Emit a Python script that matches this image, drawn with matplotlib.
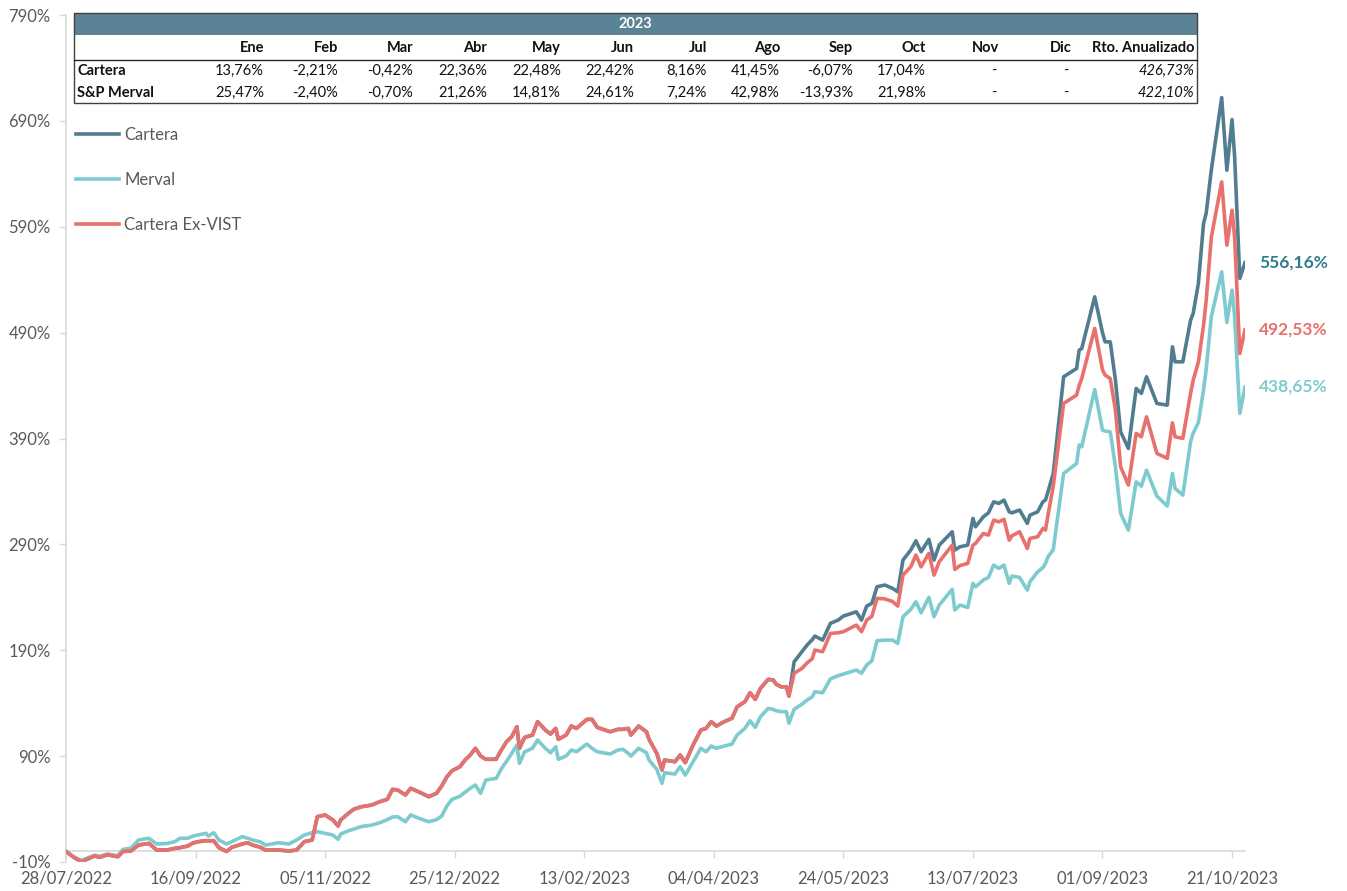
import matplotlib
matplotlib.use("Agg")
import matplotlib.pyplot as plt
import matplotlib.dates as mdates
from matplotlib.patches import Rectangle
import pandas as pd

# ---------------- data ----------------
dates = [
    "2022-07-28", "2022-07-31", "2022-08-03", "2022-08-05", "2022-08-08", "2022-08-10", "2022-08-13",
    "2022-08-17", "2022-08-19", "2022-08-22", "2022-08-25", "2022-08-29", "2022-09-01", "2022-09-05",
    "2022-09-08", "2022-09-10", "2022-09-13", "2022-09-15", "2022-09-17", "2022-09-20", "2022-09-21",
    "2022-09-23", "2022-09-25", "2022-09-28", "2022-09-30", "2022-10-04", "2022-10-06", "2022-10-08",
    "2022-10-11", "2022-10-13", "2022-10-18", "2022-10-22", "2022-10-25", "2022-10-28", "2022-10-31",
    "2022-11-02", "2022-11-05", "2022-11-08", "2022-11-10", "2022-11-11", "2022-11-14", "2022-11-16",
    "2022-11-19", "2022-11-23", "2022-11-26", "2022-11-29", "2022-12-01", "2022-12-03", "2022-12-06",
    "2022-12-08", "2022-12-11", "2022-12-15", "2022-12-18", "2022-12-20", "2022-12-22", "2022-12-24",
    "2022-12-27", "2022-12-29", "2022-12-31", "2023-01-02", "2023-01-04", "2023-01-06", "2023-01-10",
    "2023-01-12", "2023-01-14", "2023-01-16", "2023-01-18", "2023-01-19", "2023-01-21", "2023-01-24",
    "2023-01-26", "2023-01-29", "2023-01-31", "2023-02-02", "2023-02-03", "2023-02-06", "2023-02-08",
    "2023-02-10", "2023-02-14", "2023-02-16", "2023-02-18", "2023-02-23", "2023-02-26", "2023-02-28",
    "2023-03-02", "2023-03-03", "2023-03-06", "2023-03-09", "2023-03-10", "2023-03-13", "2023-03-15",
    "2023-03-16", "2023-03-20", "2023-03-22", "2023-03-24", "2023-03-27", "2023-03-30", "2023-04-01",
    "2023-04-03", "2023-04-05", "2023-04-08", "2023-04-11", "2023-04-13", "2023-04-16", "2023-04-18",
    "2023-04-20", "2023-04-22", "2023-04-25", "2023-04-27", "2023-04-28", "2023-04-30", "2023-05-02",
    "2023-05-03", "2023-05-05", "2023-05-08", "2023-05-10", "2023-05-12", "2023-05-13", "2023-05-16",
    "2023-05-19", "2023-05-22", "2023-05-24", "2023-05-29", "2023-05-31", "2023-06-02", "2023-06-04",
    "2023-06-06", "2023-06-09", "2023-06-12", "2023-06-14", "2023-06-16", "2023-06-19", "2023-06-21",
    "2023-06-23", "2023-06-26", "2023-06-28", "2023-06-30", "2023-07-05", "2023-07-06", "2023-07-08",
    "2023-07-11", "2023-07-13", "2023-07-14", "2023-07-17", "2023-07-19", "2023-07-21", "2023-07-23",
    "2023-07-25", "2023-07-27", "2023-07-28", "2023-07-31", "2023-08-03", "2023-08-04", "2023-08-07",
    "2023-08-09", "2023-08-10", "2023-08-11", "2023-08-13", "2023-08-17", "2023-08-22", "2023-08-23",
    "2023-08-24", "2023-08-29", "2023-09-01", "2023-09-02", "2023-09-04", "2023-09-06", "2023-09-08",
    "2023-09-11", "2023-09-14", "2023-09-16", "2023-09-18", "2023-09-22", "2023-09-26", "2023-09-28",
    "2023-09-29", "2023-10-02", "2023-10-05", "2023-10-06", "2023-10-08", "2023-10-10", "2023-10-11",
    "2023-10-13", "2023-10-17", "2023-10-19", "2023-10-21", "2023-10-22", "2023-10-24", "2023-10-26",
]

cartera = [
    0.0, -5.6, -9.7, -7.5, -4.3, -5.6, -3.1,
    -5.0, 0.0, 0.4, 6.0, 7.6, 1.3, 1.3,
    2.9, 3.5, 5.1, 8.0, 9.2, 10.1, 10.1,
    10.1, 3.5, 0.0, 3.9, 7.0, 8.2, 6.0,
    3.9, 1.3, 1.3, 0.4, 1.3, 9.2, 10.8,
    32.8, 34.4, 29.7, 24.0, 29.7, 36.0, 39.8,
    42.2, 43.8, 46.9, 49.2, 58.6, 58.0, 53.3,
    59.6, 56.4, 51.7, 54.9, 61.8, 70.5, 76.2,
    80.0, 86.3, 91.0, 97.4, 90.1, 87.0, 87.0,
    95.8, 103.6, 108.3, 117.8, 97.4, 107.7, 109.9,
    122.5, 114.6, 110.9, 116.2, 105.9, 109.9, 118.4,
    116.2, 124.7, 124.7, 117.2, 113.0, 115.3, 115.3,
    116.2, 109.9, 118.4, 113.0, 105.9, 92.6, 76.9,
    86.3, 84.7, 91.0, 83.8, 100.5, 114.6, 116.2,
    122.5, 118.4, 122.5, 125.7, 136.6, 141.4, 149.9,
    143.6, 154.0, 162.5, 161.8, 158.1, 155.5, 155.5,
    146.7, 179.1, 188.6, 194.9, 200.0, 203.4, 199.6,
    215.4, 218.5, 222.3, 226.3, 218.5, 231.7, 234.3,
    250.0, 251.6, 248.4, 245.2, 275.2, 284.6, 293.4,
    283.0, 294.7, 275.2, 289.3, 301.9, 284.6, 287.7,
    289.3, 314.5, 306.6, 316.0, 319.8, 330.2, 328.7,
    331.8, 320.8, 319.8, 322.4, 309.8, 317.6, 320.8,
    330.2, 331.8, 340.0, 357.0, 448.3, 456.1, 473.4,
    475.0, 523.8, 490.0, 481.3, 481.3, 445.1, 396.3,
    380.6, 437.3, 432.6, 448.3, 423.1, 421.5, 476.6,
    462.4, 462.4, 501.8, 508.1, 536.4, 593.1, 602.5,
    643.4, 712.0, 643.4, 691.2, 656.0, 541.2, 556.16,
]

merval = [
    0.0, -5.0, -8.5, -6.5, -3.5, -4.5, -2.5,
    -4.0, 2.0, 2.9, 10.8, 12.4, 7.0, 7.5,
    9.2, 12.4, 12.4, 14.5, 15.5, 17.1, 14.5,
    17.7, 10.8, 7.0, 9.2, 13.9, 12.5, 10.8,
    9.0, 6.0, 8.2, 7.0, 10.8, 15.5, 17.7,
    18.6, 17.1, 15.5, 11.4, 16.4, 19.5, 21.0,
    23.5, 24.9, 27.0, 30.0, 32.5, 32.8, 28.0,
    34.4, 31.5, 28.0, 30.0, 33.4, 43.0, 49.2,
    52.0, 56.0, 59.6, 62.7, 54.9, 67.4, 69.0,
    78.0, 85.0, 92.5, 100.5, 83.2, 94.1, 97.4,
    105.2, 97.4, 93.2, 98.9, 87.0, 90.1, 95.8,
    94.1, 101.4, 97.4, 94.1, 92.0, 95.8, 96.4,
    92.6, 90.1, 97.4, 93.2, 86.3, 77.5, 64.3,
    74.3, 73.1, 80.0, 72.1, 84.7, 97.4, 94.1,
    99.5, 97.4, 99.5, 101.4, 109.9, 116.2, 123.4,
    117.2, 127.2, 135.1, 134.0, 132.9, 132.0, 131.9,
    121.0, 134.2, 139.0, 143.0, 146.0, 150.8, 149.9,
    163.0, 166.0, 167.5, 171.3, 168.2, 176.0, 180.0,
    199.0, 199.5, 199.6, 196.5, 221.6, 228.6, 235.8,
    225.4, 240.0, 221.6, 232.7, 247.5, 228.0, 232.7,
    230.4, 253.2, 250.0, 256.3, 258.8, 270.4, 267.3,
    270.4, 253.2, 260.1, 258.8, 246.8, 254.7, 264.1,
    268.0, 272.0, 278.3, 285.0, 357.0, 366.4, 383.8,
    382.2, 436.3, 397.9, 397.0, 396.3, 363.3, 319.3,
    303.5, 349.1, 345.0, 360.1, 335.6, 326.2, 357.0,
    342.9, 336.5, 386.9, 395.0, 405.0, 436.0, 455.0,
    505.0, 547.4, 499.6, 530.1, 505.0, 413.7, 438.65,
]

cartera_ex_vist = [
    0.0, -5.6, -9.7, -7.5, -4.3, -5.6, -3.1,
    -5.0, 0.0, 0.4, 6.0, 7.6, 1.3, 1.3,
    2.9, 3.5, 5.1, 8.0, 9.2, 10.1, 10.1,
    10.1, 3.5, 0.0, 3.9, 7.0, 8.2, 6.0,
    3.9, 1.3, 1.3, 0.4, 1.3, 9.2, 10.8,
    32.8, 34.4, 29.7, 24.0, 29.7, 36.0, 39.8,
    42.2, 43.8, 46.9, 49.2, 58.6, 58.0, 53.3,
    59.6, 56.4, 51.7, 54.9, 61.8, 70.5, 76.2,
    80.0, 86.3, 91.0, 97.4, 90.1, 87.0, 87.0,
    95.8, 103.6, 108.3, 117.8, 97.4, 107.7, 109.9,
    122.5, 114.6, 110.9, 116.2, 105.9, 109.9, 118.4,
    116.2, 124.7, 124.7, 117.2, 113.0, 115.3, 115.3,
    116.2, 109.9, 118.4, 113.0, 105.9, 92.6, 76.9,
    86.3, 84.7, 91.0, 83.8, 100.5, 114.6, 116.2,
    122.5, 118.4, 122.5, 125.7, 136.6, 141.4, 149.9,
    143.6, 154.0, 162.5, 161.8, 158.1, 155.5, 155.5,
    146.7, 168.2, 172.9, 178.0, 182.0, 190.2, 188.6,
    205.9, 206.5, 207.5, 213.8, 207.5, 218.5, 222.0,
    239.0, 238.5, 236.0, 231.7, 261.0, 268.8, 279.9,
    268.8, 281.5, 261.0, 273.6, 289.3, 266.3, 270.0,
    272.0, 289.3, 290.9, 300.3, 298.8, 312.9, 311.3,
    313.6, 294.0, 298.0, 301.9, 286.1, 295.6, 297.2,
    305.1, 303.5, 318.0, 345.0, 423.1, 431.0, 440.0,
    446.7, 494.0, 455.0, 449.9, 446.7, 416.8, 363.3,
    346.0, 394.8, 391.6, 410.5, 375.9, 371.2, 404.8,
    391.6, 390.1, 432.6, 445.0, 462.0, 497.0, 520.0,
    580.0, 632.4, 572.6, 605.6, 580.0, 470.3, 492.53,
]

series_names = ["Cartera", "Merval", "Cartera Ex-VIST"]
x_tick_labels = ["28/07/2022", "16/09/2022", "05/11/2022", "25/12/2022", "13/02/2023",
                 "04/04/2023", "24/05/2023", "13/07/2023", "01/09/2023", "21/10/2023"]
y_ticks = [-10, 90, 190, 290, 390, 490, 590, 690, 790]

table_year = "2023"
table_months = ["Ene", "Feb", "Mar", "Abr", "May", "Jun", "Jul", "Ago", "Sep", "Oct", "Nov", "Dic"]
table_rows = ["Cartera", "S&P Merval"]
cartera_monthly = [13.76, -2.21, -0.42, 22.36, 22.48, 22.42, 8.16, 41.45, -6.07, 17.04, None, None]
merval_monthly = [25.47, -2.40, -0.70, 21.26, 14.81, 24.61, 7.24, 42.98, -13.93, 21.98, None, None]
annualized_header = "Rto. Anualizado"
annualized = [426.73, 422.10]

# ---------------- style ----------------
C_CART = "#527D90"
C_MERV = "#7DCBCE"
C_EXV = "#E8706D"
C_LABEL_CART = "#2F7C8C"
GRAY_TXT = "#595959"
AXIS_GRAY = "#D9D9D9"
FONT = "Lato"
TFONT = "Lato"
TSIZE = 10.5

W, H = 1347, 891
fig = plt.figure(figsize=(W / 100, H / 100), dpi=100)
x_left, x_right = 66, 1245
y_top, y_bot = 15, 862
ax = fig.add_axes([x_left / W, 1 - y_bot / H, (x_right - x_left) / W, (y_bot - y_top) / H])

x = mdates.date2num(pd.to_datetime(dates))
l1, = ax.plot(x, cartera, color=C_CART, lw=2.6, solid_joinstyle="round", zorder=3)
l2, = ax.plot(x, merval, color=C_MERV, lw=2.6, solid_joinstyle="round", zorder=4)
l3, = ax.plot(x, cartera_ex_vist, color=C_EXV, lw=2.6, solid_joinstyle="round", zorder=5)

ax.set_xlim(x[0], x[-1])
ax.set_ylim(-10, 790)

# y axis
ax.set_yticks(y_ticks)
ax.set_yticklabels([f"{v}%" for v in y_ticks], fontsize=12, color=GRAY_TXT, family=FONT)
ax.tick_params(axis="y", direction="out", length=5, width=1, color=AXIS_GRAY, pad=6)
ax.spines["left"].set_color(AXIS_GRAY)
ax.spines["left"].set_linewidth(1.2)
ax.spines["top"].set_visible(False)
ax.spines["right"].set_visible(False)

# x axis line at 0 with ticks, labels at the bottom
tick_pos = mdates.date2num(pd.to_datetime(x_tick_labels, format="%d/%m/%Y"))
ax.spines["bottom"].set_position(("data", 0))
ax.spines["bottom"].set_color(AXIS_GRAY)
ax.spines["bottom"].set_linewidth(1.2)
ax.set_xticks(tick_pos)
ax.tick_params(axis="x", direction="out", length=5, width=1, color=AXIS_GRAY, labelbottom=False)
sec = ax.secondary_xaxis(0.0)
sec.set_xticks(tick_pos)
sec.set_xticklabels(x_tick_labels, fontsize=12, color=GRAY_TXT, family=FONT)
sec.tick_params(axis="x", length=0, pad=6)
sec.spines["bottom"].set_visible(False)

# legend
leg = ax.legend([l1, l2, l3], series_names, loc="upper left", bbox_to_anchor=(0.0, 0.880),
                frameon=False, handlelength=2.6, handletextpad=0.3,
                labelspacing=1.75, borderaxespad=0.2, prop={"family": FONT, "size": 12})
for t in leg.get_texts():
    t.set_color(GRAY_TXT)

# end labels
def fmt(v):
    return f"{v:.2f}%".replace(".", ",")

for ser, col in [(cartera, C_LABEL_CART), (cartera_ex_vist, C_EXV), (merval, C_MERV)]:
    ax.annotate(fmt(ser[-1]), xy=(x[-1], ser[-1]), xytext=(10, 0), textcoords="offset points",
                ha="left", va="center", fontsize=12.5, fontweight="bold", color=col,
                family=FONT, annotation_clip=False)

# ---------------- table ----------------
tax = fig.add_axes([0, 0, 1, 1], zorder=10)
tax.set_xlim(0, W)
tax.set_ylim(H, 0)
tax.axis("off")

tl, tr, tt, tb = 74, 1197, 13, 103
tax.add_patch(Rectangle((tl, tt), tr - tl, tb - tt, facecolor="white", edgecolor="none"))
tax.add_patch(Rectangle((tl, tt), tr - tl, 35 - tt, facecolor="#5B8396", edgecolor="none"))
tax.text((tl + tr) / 2, 24.5, table_year, ha="center", va="center", color="white",
         fontsize=TSIZE, fontweight="bold", family=TFONT)
tax.add_patch(Rectangle((tl, tt), tr - tl, tb - tt, facecolor="none", edgecolor="#3F3F3F", lw=1.0))
tax.plot([tl, tr], [59.5, 59.5], color="#262626", lw=1.0)

col_right = [264, 338, 413, 487, 561, 634, 707, 780, 853, 926, 999, 1072]
ann_right = 1194
y_head, y_r1, y_r2 = 48, 71, 93

for m, xr in zip(table_months, col_right):
    tax.text(xr, y_head, m, ha="right", va="center", fontsize=TSIZE, fontweight="bold",
             color="#111111", family=TFONT)
tax.text(ann_right, y_head, annualized_header, ha="right", va="center", fontsize=TSIZE,
         fontweight="bold", color="#111111", family=TFONT)

def pct(v):
    return f"{v:.2f}%".replace(".", ",")

for name, vals, ann, yy in [(table_rows[0], cartera_monthly, annualized[0], y_r1),
                            (table_rows[1], merval_monthly, annualized[1], y_r2)]:
    tax.text(77, yy, name, ha="left", va="center", fontsize=TSIZE, fontweight="bold",
             color="#111111", family=TFONT)
    for v, xr in zip(vals, col_right):
        if v is None:
            tax.text(xr - 3, yy, "-", ha="right", va="center", fontsize=TSIZE, color="#111111", family=TFONT)
        else:
            tax.text(xr, yy, pct(v), ha="right", va="center", fontsize=TSIZE, color="#111111", family=TFONT)
    tax.text(ann_right, yy, pct(ann), ha="right", va="center", fontsize=TSIZE, style="italic",
             color="#111111", family=TFONT)

fig.savefig("out.png", dpi=100)
